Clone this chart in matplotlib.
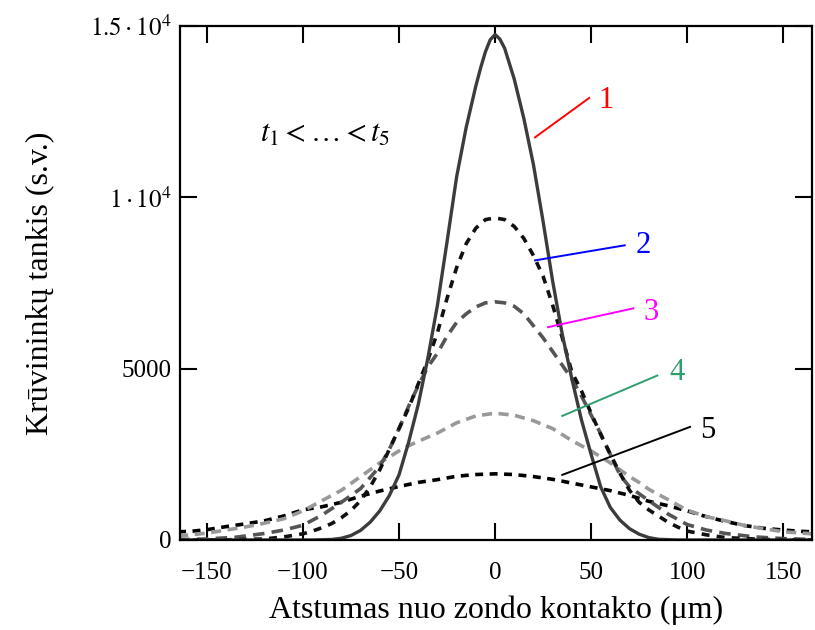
import matplotlib
matplotlib.use("Agg")
import matplotlib.pyplot as plt

plt.rcParams['font.family'] = ['Liberation Serif', 'DejaVu Serif']
plt.rcParams['mathtext.fontset'] = 'stix'

# Curve 1 (solid)
x1 = [-165, -95, -85, -80, -75, -70, -65, -60, -55, -50, -45, -40, -35, -30, -25, -20, -15, -10, -7.5, -5, -2.5, 0,
      2.5, 5, 7.5, 10, 15, 20, 25, 30, 35, 40, 45, 50, 55, 60, 65, 70, 75, 80, 85, 95, 165]
y1 = [0, 0, 15, 50, 130, 280, 520, 850, 1300, 1900, 2850, 3950, 5300, 6850, 8700, 10600, 12050, 13250, 13780, 14250,
      14600, 14750,
      14620, 14350, 13900, 13450, 12300, 10950, 9300, 7550, 6000, 4700, 3500, 2500, 1550, 950, 580, 330, 170, 70, 20, 0, 0]

# Curve 2
x2 = [-165, -140, -120, -110, -100, -95, -90, -85, -80, -75, -70, -65, -60, -55, -50, -45, -40, -35, -30, -25,
      -20, -15, -10, -5, 0, 5, 10, 15, 20, 25, 30, 35, 40, 45, 50, 55, 60, 65, 70, 75, 80, 85, 90, 95, 100,
      110, 120, 140, 165]
y2 = [0, 5, 30, 90, 180, 260, 360, 480, 650, 860, 1150, 1550, 2050, 2650, 3250, 3850, 4550, 5250, 6050, 7050,
      7950, 8650, 9100, 9350, 9400, 9350, 9150, 8800, 8300, 7700, 6850, 5900, 4900, 4350, 3700, 3080, 2500, 1950,
      1450, 1100, 880, 700, 520, 380, 260, 150, 70, 15, 0]

# Curve 3
x3 = [-165, -150, -135, -120, -110, -100, -90, -80, -70, -60, -55, -50, -45, -40, -35, -30, -25, -20, -15, -10,
      -5, 0, 5, 10, 15, 20, 25, 30, 35, 40, 45, 50, 55, 60, 65, 70, 80, 90, 100, 110, 120, 135, 150, 165]
y3 = [10, 30, 80, 190, 290, 430, 730, 1100, 1500, 2150, 2650, 3250, 3900, 4500, 5050, 5450, 5950, 6350, 6600, 6800,
      6920, 6950, 6920, 6820, 6600, 6250, 5900, 5500, 5100, 4700, 4200, 3650, 3100, 2500, 1900, 1550, 1150, 760,
      450, 290, 190, 90, 40, 15]

# Curve 4
x4 = [-165, -160, -150, -140, -130, -120, -110, -100, -90, -80, -70, -60, -50, -45, -40, -30, -20, -10, 0,
      10, 20, 30, 40, 50, 60, 70, 75, 80, 90, 100, 110, 120, 130, 140, 150, 160, 165]
y4 = [110, 140, 200, 290, 380, 490, 620, 850, 1150, 1450, 1850, 2250, 2600, 2750, 2880, 3120, 3420, 3620, 3700,
      3640, 3480, 3250, 2900, 2600, 2250, 1850, 1680, 1480, 1180, 870, 680, 560, 420, 330, 240, 200, 180]

# Curve 5
x5 = [-165, -159, -150, -140, -130, -120, -110, -100, -90, -80, -70, -60, -50, -40, -30, -20, -10, 0,
      10, 20, 30, 40, 50, 60, 70, 80, 90, 100, 110, 120, 130, 140, 150, 160, 165]
y5 = [240, 250, 300, 390, 470, 560, 700, 880, 970, 1100, 1280, 1430, 1560, 1680, 1760, 1860, 1910, 1930,
      1910, 1850, 1770, 1660, 1550, 1440, 1300, 1130, 1000, 850, 680, 540, 420, 340, 290, 250, 240]

xticks = [-150, -100, -50, 0, 50, 100, 150]
xtick_labels = ['\u2212150', '\u2212100', '\u221250', '0', '50', '100', '150']
yticks = [0, 5000, 10000, 15000]
ytick_labels = ['0', '5000', r'$1\cdot10^4$', r'$1.5\cdot10^4$']

labels = ['1', '2', '3', '4', '5']
label_colors = ['#ff0000', '#0000ff', '#ff00ff', '#2e9e6e', '#000000']
# annotation: (line start x,y), (line end x,y), (text x,y)
ann = [((20.8, 11750), (49, 12900), (54, 12830)),
       ((20.8, 8160), (67.5, 8600), (73, 8600)),
       ((27.5, 6210), (72, 6760), (77.5, 6650)),
       ((35, 3620), (84.5, 4800), (91, 4890)),
       ((35, 1900), (101.5, 3300), (107, 3200))]

fig = plt.figure(figsize=(8.15, 6.3), dpi=100)
ax = fig.add_axes([0.2209, 0.1429, 0.7754, 0.8158])

ax.plot(x5, y5, color='#000000', lw=2.6, dashes=(2.2, 1.8))
ax.plot(x4, y4, color='#999999', lw=2.6, dashes=(2.8, 1.8))
ax.plot(x3, y3, color='#555555', lw=2.6, dashes=(3.2, 2.0))
ax.plot(x2, y2, color='#111111', lw=2.6, dashes=(2.2, 2.0))
ax.plot(x1, y1, color='#3c3c3c', lw=2.4, solid_joinstyle='round')

for (s, e, t), lab, c in zip(ann, labels, label_colors):
    ax.plot([s[0], e[0]], [s[1], e[1]], color=c, lw=1.4)
    ax.text(t[0], t[1], lab, color=c, fontsize=22, ha='left', va='center')

ax.text(-88.5, 11850, r'$t_1 < \ldots < t_5$', fontsize=22, ha='center', va='center')

ax.set_xlim(-164, 165)
ax.set_ylim(0, 15000)
ax.set_xticks(xticks)
ax.set_xticklabels(xtick_labels, fontsize=18)
ax.set_yticks(yticks)
ax.set_yticklabels(ytick_labels, fontsize=18)
ax.tick_params(direction='in', length=12, width=1.5, top=True, right=True)
ax.tick_params(axis='x', pad=16)
ax.tick_params(axis='y', pad=6)
for sp in ax.spines.values():
    sp.set_linewidth(1.6)

ax.set_xlabel('Atstumas nuo zondo kontakto (\u03bcm)', fontsize=23, labelpad=8)
ax.set_ylabel('Kr\u016bvininkų tankis (s.v.)', fontsize=23, labelpad=26)

fig.savefig('out.png', dpi=100)
